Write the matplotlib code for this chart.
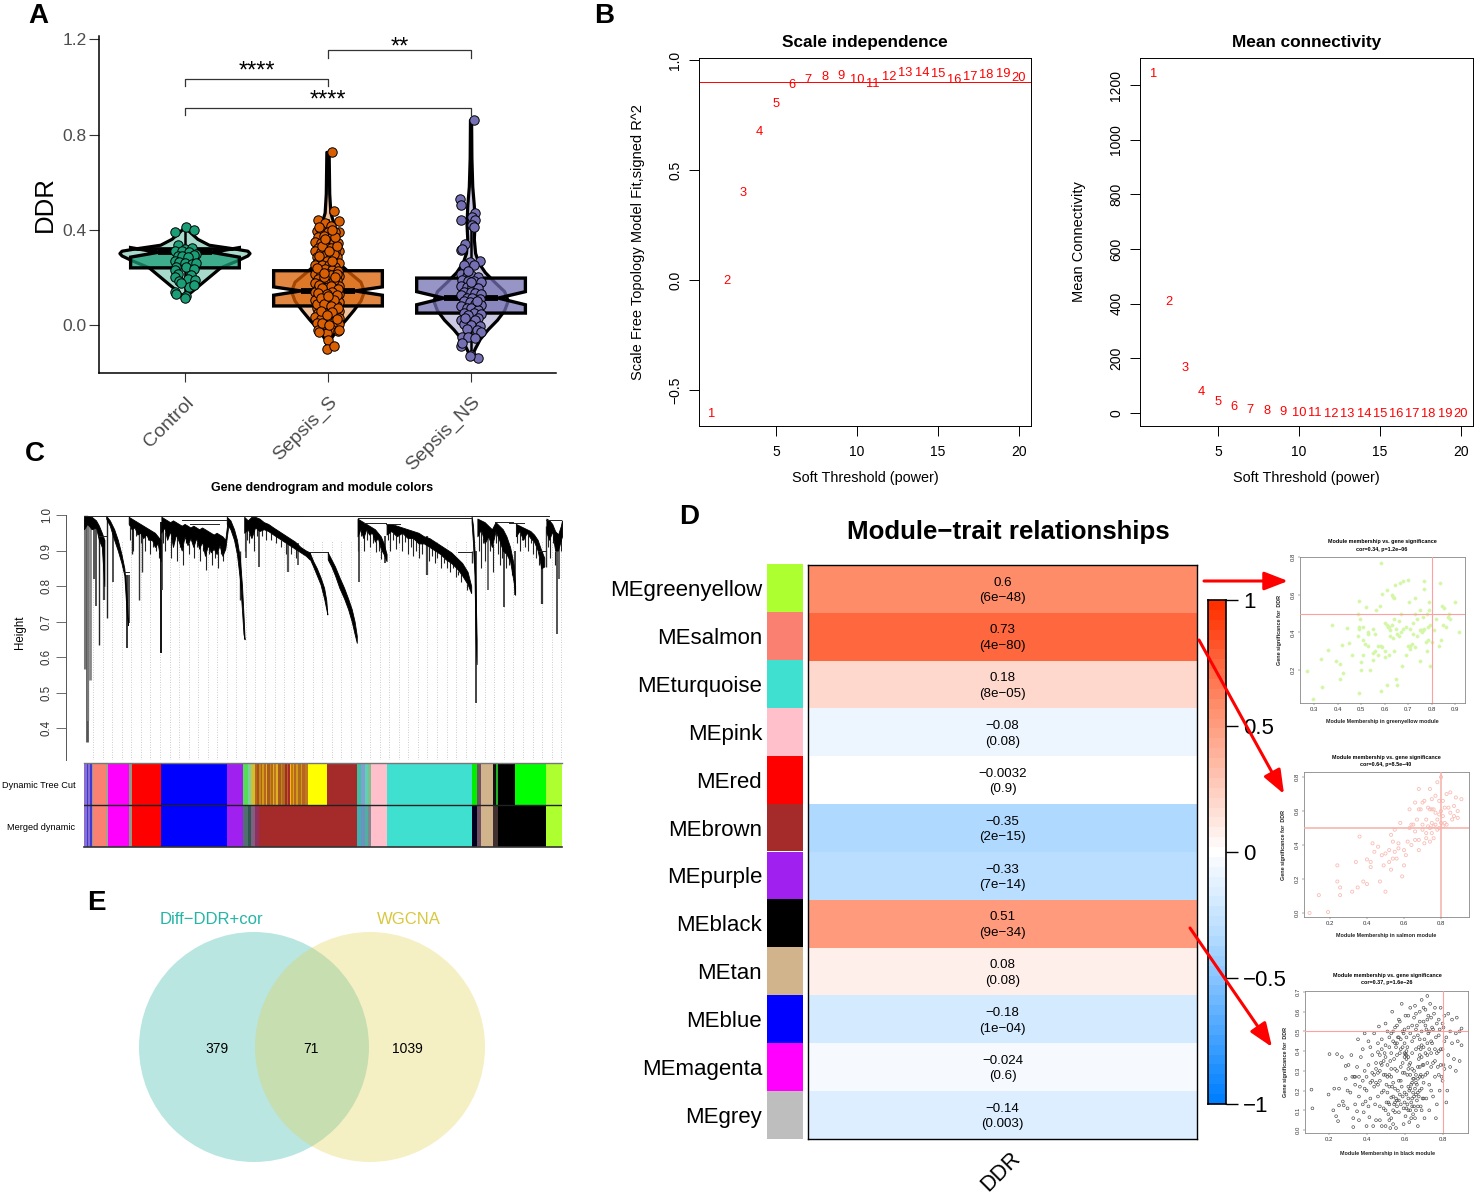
import numpy as np
import matplotlib
matplotlib.use("Agg")
import matplotlib.pyplot as plt
from matplotlib.colors import LinearSegmentedColormap
from matplotlib.patches import Circle

plt.rcParams['font.family'] = ['Liberation Sans', 'DejaVu Sans']

W, H = 1476, 1197
fig = plt.figure(figsize=(W/100, H/100), dpi=100)

def axpx(l, t, r, b):
    return fig.add_axes([l/W, 1-b/H, (r-l)/W, (b-t)/H])

# ---------- Panel A data ----------
groups = ['Control', 'Sepsis_S', 'Sepsis_NS']
box_q1 = [0.24, 0.08, 0.05]
box_med = [0.305, 0.143, 0.113]
box_q3 = [0.32, 0.228, 0.197]
box_lo = [0.285, 0.125, 0.085]
box_hi = [0.325, 0.16, 0.14]
whisk_lo = [0.12, -0.08, -0.12]
whisk_hi = [0.41, 0.44, 0.42]
fill_cols = ['#1B9E77', '#D95F02', '#7570B3']
viol_y = [
    [0.115, 0.13, 0.16, 0.20, 0.24, 0.27, 0.29, 0.30, 0.31, 0.32, 0.335, 0.36, 0.39, 0.41],
    [-0.10, -0.06, -0.02, 0.02, 0.06, 0.10, 0.14, 0.18, 0.22, 0.26, 0.30, 0.36, 0.42, 0.47, 0.55, 0.725],
    [-0.14, -0.10, -0.06, -0.02, 0.02, 0.06, 0.10, 0.14, 0.18, 0.22, 0.26, 0.30, 0.36, 0.42, 0.50, 0.58, 0.70, 0.86],
]
viol_w = [
    [0, 0.03, 0.09, 0.17, 0.25, 0.37, 0.44, 0.455, 0.44, 0.34, 0.17, 0.09, 0.035, 0],
    [0, 0.02, 0.065, 0.125, 0.18, 0.23, 0.255, 0.23, 0.15, 0.075, 0.06, 0.055, 0.045, 0.02, 0.012, 0.008],
    [0, 0.03, 0.065, 0.12, 0.185, 0.235, 0.26, 0.235, 0.165, 0.10, 0.055, 0.032, 0.023, 0.028, 0.023, 0.012, 0.006, 0.004],
]
pts_control = [(0.01,.41),(-0.07,.39),(0.06,.40),(-0.05,.335),(0.0,.32),(0.05,.325),(-0.07,.31),(-0.02,.31),(0.03,.305),
 (0.08,.30),(0.06,.295),(-0.05,.29),(-0.02,.29),(0.02,.285),(-0.07,.27),(-0.04,.265),(0.0,.26),(0.05,.255),(0.08,.26),
 (-0.06,.245),(0.01,.245),(0.06,.235),(-0.07,.23),(-0.05,.215),(0.04,.21),(-0.07,.20),(0.02,.195),(0.07,.19),(-0.04,.185),
 (0.03,.16),(-0.07,.14),(-0.06,.13),(0.01,.12),(0.0,.115),(0.06,.17),(-0.03,.175)]
pts_s = [(0.03,.725),(0.04,.48),(-0.07,.44),(0.08,.435),(-0.02,.43),(0.02,.415),(-0.08,.395),(0.08,.39),(-0.05,.40),(0.0,.39),
 (0.05,.39),(-0.07,.37),(-0.03,.375),(0.03,.37),(-0.09,.35),(-0.05,.345),(0.01,.35),(0.04,.35),(0.07,.345),(-0.07,.325),(-0.02,.33),
 (0.02,.325),(0.08,.31),(-0.09,.31),(-0.05,.305),(0.0,.305),(0.05,.31),(-0.08,.285),(-0.03,.29),(0.02,.285),(0.06,.285),(-0.07,.265),
 (-0.01,.27),(0.04,.265),(0.08,.26),(-0.09,.25),(-0.04,.25),(0.01,.25),(0.05,.245),(-0.07,.23),(-0.02,.235),(0.03,.23),(0.07,.225),
 (-0.09,.215),(-0.05,.215),(0.0,.215),(0.04,.21),(0.08,.205),(-0.07,.195),(-0.02,.195),(0.02,.19),(0.06,.19),(-0.09,.175),(-0.04,.175),
 (0.01,.175),(0.05,.17),(0.08,.165),(-0.07,.155),(-0.02,.155),(0.03,.155),(-0.09,.14),(-0.05,.14),(0.0,.14),(0.05,.135),(0.08,.13),
 (-0.07,.12),(-0.02,.12),(0.02,.115),(0.06,.11),(-0.09,.105),(-0.04,.10),(0.01,.10),(0.08,.095),(-0.06,.085),(0.03,.085),(0.06,.08),
 (-0.08,.07),(-0.03,.07),(0.01,.065),(0.08,.06),(-0.07,.05),(-0.02,.05),(0.05,.045),(-0.09,.035),(0.02,.035),(0.08,.03),(-0.05,.025),
 (0.0,.02),(0.05,.015),(-0.08,.01),(-0.03,.005),(0.08,.005),(0.03,-.005),(-0.07,-.02),(0.02,-.015),(0.07,-.025),(-0.01,-.035),(-0.06,-.03),
 (0.0,-.065),(-0.01,-.10),(0.04,-.09),(0.08,-.02),(-0.08,.09),(0.0,.16),(0.04,.30),
 (-0.04,.33),(0.01,.31),(0.06,.33),(-0.06,.29),(0.03,.27),(-0.08,.24),(0.02,.21),(0.06,.215),(-0.03,.20),(0.04,.19),(-0.06,.17),(0.02,.165),
 (0.07,.15),(-0.04,.155),(0.03,.14),(-0.07,.135),(-0.01,.13),(0.06,.125),(-0.05,.115),(0.04,.105),(-0.03,.09),(0.02,.08),(0.07,.07),(-0.05,.06),
 (0.03,.055),(-0.01,.04),(0.06,.025),(-0.04,.01),(0.01,.0),(-0.02,.36),(0.05,.37),(-0.06,.41),(0.03,.40),(-0.03,.22),(0.05,.20),(0.0,.12)]
pts_ns = [(0.02,.86),(-0.08,.53),(-0.07,.505),(0.03,.47),(0.01,.455),(0.03,.44),(-0.07,.44),(0.01,.42),(0.02,.41),(-0.04,.34),
 (-0.07,.315),(-0.06,.32),(0.06,.27),(-0.01,.265),(0.02,.25),(-0.05,.25),(-0.07,.215),(-0.03,.205),(0.0,.21),(0.05,.20),(-0.06,.19),
 (-0.02,.185),(0.02,.185),(0.07,.18),(-0.07,.165),(-0.03,.16),(0.01,.16),(0.05,.155),(-0.05,.14),(0.0,.14),(0.03,.135),(0.07,.13),
 (-0.07,.125),(-0.03,.115),(0.01,.115),(0.06,.11),(-0.05,.10),(-0.01,.095),(0.03,.09),(0.07,.085),(-0.07,.08),(-0.03,.07),(0.0,.07),
 (0.05,.065),(-0.05,.05),(0.02,.05),(0.07,.045),(-0.02,.04),(0.05,.03),(-0.07,.02),(0.03,.02),(-0.05,.005),(0.0,.0),(0.06,-.005),
 (-0.03,-.015),(0.04,-.02),(0.07,-.03),(-0.06,-.05),(-0.02,-.05),(0.03,-.055),(-0.07,-.09),(-0.06,-.075),(0.0,-.125),(0.05,-.14),
 (-0.01,-.13),(0.0,.18),(-0.02,.225),(0.04,.10),(-0.04,.03)]
pts_all = [pts_control, pts_s, pts_ns]
# bracket: left, right, top, drop end, star height, stars
brackets = [(0, 1, 1.034, 1.004, 1.020, '****'), (1, 2, 1.155, 1.122, 1.118, '**'), (0, 2, 0.912, 0.882, 0.898, '****')]

# ---------- Panel B data ----------
powers = list(range(1, 21))
sft_r2 = [-0.60, 0.005, 0.405, 0.68, 0.81, 0.895, 0.92, 0.93, 0.935, 0.92, 0.90, 0.93, 0.95, 0.95, 0.945, 0.92, 0.93, 0.94, 0.945, 0.925]
mean_k = [1247, 413, 172, 84, 48, 29, 18, 14, 11, 7, 6, 5, 4, 3, 3, 3, 2, 2, 2, 2]

# ---------- Panel C data (x = position along gene order) ----------
strip_mix = [(700,705,'#B8651E'),(705,710,'#A8501E'),(710,716,'#C08A10'),(716,720,'#B06020'),(720,724,'#D09A18'),(724,730,'#B8651E'),(730,733,'#E0B020'),(733,740,'#A85A20'),
 (740,744,'#C08A10'),(744,750,'#B8651E'),(750,753,'#DDB020'),(753,758,'#C07820'),(758,763,'#E0B020'),(763,770,'#A85A20'),(770,775,'#C08A10'),(775,782,'#B06A20'),(782,787,'#A52A2A'),
 (787,792,'#B8651E'),(792,796,'#A52A2A'),(796,800,'#FFC000'),(800,804,'#C07820'),(804,808,'#E0A010'),(808,814,'#B8651E'),(814,818,'#D09A18'),(818,826,'#B06A20'),(826,830,'#D09A18'),(830,838,'#B8651E'),(838,845,'#C07820')]
strip_top = [(229,236,'#8B6FD0'),(236,240,'#3A3AD8'),(240,246,'#8B6FD0'),(246,250,'#3A3AD8'),(250,255,'#999999'),(255,290,'#FA8072'),(290,294,'#A8A090'),
 (294,352,'#FF00FF'),(352,362,'#8C9A80'),(362,440,'#FF0000'),(440,622,'#0000FF'),(622,668,'#A020F0'),(668,680,'#55DD55'),(680,688,'#7FD0A0'),(688,700,'#D0C030')] + strip_mix + [
 (845,899,'#FFFF00'),(899,980,'#A52A2A'),(980,992,'#40C0A0'),(992,1002,'#7FA0D0'),(1002,1012,'#60D0B0'),(1012,1020,'#80C090'),(1020,1062,'#FFC0CB'),(1062,1296,'#40E0D0'),
 (1296,1310,'#00EE00'),(1310,1323,'#705060'),(1323,1356,'#D2B48C'),(1356,1362,'#111111'),(1362,1369,'#20B020'),(1369,1415,'#000000'),(1415,1500,'#00FF00'),(1500,1545,'#ADFF2F')]
strip_bot = [(229,236,'#8B6FD0'),(236,240,'#3A3AD8'),(240,246,'#8B6FD0'),(246,250,'#3A3AD8'),(250,255,'#999999'),(255,290,'#FA8072'),(290,294,'#A8A090'),
 (294,352,'#FF00FF'),(352,362,'#8C9A80'),(362,440,'#FF0000'),(440,622,'#0000FF'),(622,668,'#A020F0'),(668,680,'#507070'),(680,690,'#305850'),(690,700,'#806080'),
 (700,712,'#903060'),(712,980,'#A52A2A'),(980,992,'#40B0B0'),(992,1002,'#7090C0'),(1002,1012,'#50B0A0'),(1012,1020,'#808890'),(1020,1062,'#FFC0CB'),(1062,1296,'#40E0D0'),
 (1296,1310,'#000020'),(1310,1323,'#705060'),(1323,1356,'#D2B48C'),(1356,1369,'#403030'),(1369,1500,'#000000'),(1500,1545,'#ADFF2F')]
# bushes: x, upper envelope, jagged lower envelope
bushes = [
 ([229,238,250,262,270,278,285],[.998,.998,.995,.985,.97,.95,.93],[.96,.975,.96,.965,.93,.91,.80]),
 ([290,300,312,322,332,340,346,350],[.998,.985,.96,.93,.89,.85,.78,.70],[.99,.97,.93,.90,.865,.83,.73,.69]),
 ([352,360,368,376,384,392,400,408,416,424,432,440],[.995,.99,.985,.98,.975,.97,.965,.96,.955,.95,.94,.93],[.975,.96,.965,.945,.95,.935,.945,.93,.93,.91,.92,.87]),
 ([442,450,458,466,474,482,490,498,506,514,522,530,538,546,554,562,570,578,586,594,602,610,618,625],
  [.995,.99,.985,.98,.985,.98,.975,.97,.975,.97,.965,.97,.965,.96,.965,.96,.955,.95,.945,.95,.945,.94,.93,.99],
  [.95,.965,.93,.955,.91,.945,.925,.90,.94,.915,.935,.91,.935,.905,.925,.885,.915,.895,.905,.89,.915,.885,.905,.96]),
 ([622,632,642,650,658,664,668,671],[.995,.985,.96,.93,.88,.80,.72,.655],[.975,.96,.93,.89,.82,.73,.665,.65]),
 ([670,680,690,700,712,724,736,750,765,780,795,810,825,840,850],[.995,.985,.995,.995,.99,.98,.975,.965,.955,.945,.935,.925,.91,.90,.895],
  [.95,.96,.935,.965,.955,.96,.955,.945,.935,.925,.915,.905,.895,.885,.875]),
 ([850,860,870,880,890,896,899],[.895,.87,.85,.825,.795,.76,.72],[.878,.855,.83,.805,.765,.735,.72]),
 ([900,910,920,932,945,956,966,974,980],[.895,.875,.855,.825,.795,.765,.735,.70,.66],[.875,.855,.83,.795,.765,.735,.70,.665,.64]),
 ([982,990,998,1006,1014,1022,1030,1038,1046,1054,1062],[.99,.985,.98,.975,.97,.965,.96,.95,.94,.92,.89],[.94,.96,.935,.96,.945,.95,.925,.935,.905,.89,.87]),
 ([1062,1075,1090,1105,1120,1135,1150,1165,1180,1195,1210,1225,1240,1255,1270,1285,1295],[.975,.975,.97,.965,.96,.955,.95,.94,.935,.925,.915,.905,.895,.88,.865,.84,.80],
  [.945,.955,.94,.95,.935,.935,.92,.92,.91,.90,.89,.875,.865,.85,.83,.805,.78]),
 ([1296,1300,1304,1307,1310],[.998,.97,.90,.80,.65],[.98,.92,.83,.65,.58]),
 ([1312,1322,1332,1342,1352,1362,1372,1382,1392,1402,1412,1416],[.99,.985,.98,.97,.96,.98,.97,.96,.94,.91,.86,.80],[.94,.96,.92,.94,.91,.955,.93,.90,.89,.87,.81,.775]),
 ([1418,1428,1438,1448,1458,1468,1478,1488,1496],[.975,.97,.965,.96,.955,.945,.93,.90,.88],[.94,.955,.93,.95,.935,.925,.90,.85,.855]),
 ([1502,1510,1518,1526,1534,1542,1545],[.99,.985,.975,.955,.945,.97,.985],[.95,.93,.955,.90,.90,.93,.94]),
]
drops = [(232,.99,.565,2.2,'#777777'),(236,.99,.36,2.0,'#555555'),(241,.99,.42,1.6,'#777777'),(246,.99,.535,2.0,'#888888'),(257,.97,.82,1.4,'#555555'),(263,.97,.745,1.2,'#333333'),
 (271,.96,.635,1.0,'#222222'),(285,.93,.76,1.6,'#444444'),(293,.99,.71,1.0,'#222222'),(310,.95,.81,1.2,'#333333'),(348,.83,.625,1.2,'#111111'),(352,.83,.695,1.2,'#333333'),
 (360,.98,.89,1.0,'#222222'),(380,.97,.76,1.0,'#333333'),(390,.95,.84,1.0,'#333333'),(441,.98,.61,1.4,'#111111'),(445,.95,.79,1.2,'#333333'),(658,.90,.76,1.0,'#333333'),
 (675,.97,.88,1.2,'#444444'),(712,.98,.855,1.2,'#333333'),(790,.93,.84,1.6,'#555555'),(818,.92,.86,1.2,'#444444'),(986,.98,.81,1.2,'#333333'),(1058,.94,.865,1.2,'#222222'),
 (1172,.94,.83,1.6,'#444444'),(1296,.90,.865,1.0,'#333333'),(1309,.90,.47,1.4,'#444444'),(1340,.97,.79,1.2,'#555555'),(1386,.95,.74,1.4,'#444444'),(1415,.90,.775,1.2,'#222222'),
 (1490,.90,.75,1.6,'#333333'),(1532,.95,.665,1.2,'#333333'),(1537,.92,.82,1.2,'#444444'),(1500,.97,.855,1.0,'#333333')]
# fine spikes hanging from the bushes: x, lowest height
spikes = [(356,.93),(364,.90),(372,.94),(386,.92),(396,.90),(404,.93),(412,.89),(420,.91),(428,.90),(436,.88),
 (447,.92),(453,.90),(461,.94),(469,.88),(477,.93),(485,.87),(493,.91),(501,.86),(509,.92),(517,.89),(525,.93),(533,.88),(541,.91),(549,.87),(557,.90),(565,.845),(573,.89),(581,.86),
 (589,.88),(597,.85),(605,.89),(613,.87),(672,.90),(678,.93),(684,.92),(692,.94),(698,.90),(704,.94),(718,.94),(730,.93),(744,.93),(758,.92),(772,.91),(785,.89),(800,.89),(812,.88),
 (984,.90),(992,.94),(1000,.90),(1008,.93),(1016,.91),(1024,.92),(1032,.895),(1040,.90),(1048,.875),(1066,.93),(1072,.90),(1080,.93),(1088,.905),(1096,.92),(1104,.90),(1112,.925),(1120,.89),(1128,.91),
 (1136,.885),(1144,.90),(1152,.88),(1160,.89),(1178,.87),(1186,.885),(1194,.865),(1202,.88),(1212,.85),(1220,.865),(1228,.85),(1236,.84),(1244,.85),(1252,.825),(1260,.83),(1268,.81),(1276,.82),(1284,.79),
 (1316,.90),(1322,.85),(1328,.92),(1334,.87),(1346,.90),(1354,.84),(1362,.92),(1368,.89),(1374,.86),(1380,.88),(1392,.85),(1398,.86),(1406,.83),
 (1422,.92),(1430,.90),(1436,.93),(1444,.91),(1452,.90),(1460,.92),(1466,.89),(1474,.88),(1482,.86),(1506,.91),(1512,.88),(1520,.92),(1526,.86),(1543,.90)]
merges = [(229,830,.998),(440,780,.997),(700,1500,.996),(982,1296,.992),(1296,1510,.997),(1500,1542,.986),(1440,1400,.978),(500,620,.985),(520,600,.975),(440,625,.996),
 (340,352,.84),(270,290,.94),(850,900,.895),(1260,1296,.897),(1000,1060,.978),(1360,1410,.98),(1060,1100,.975),(1480,1500,.90)]

# ---------- Panel D data ----------
modules = ['MEgreenyellow','MEsalmon','MEturquoise','MEpink','MEred','MEbrown','MEpurple','MEblack','MEtan','MEblue','MEmagenta','MEgrey']
module_cols = ['#ADFF2F','#FA8072','#40E0D0','#FFC0CB','#FF0000','#A52A2A','#A020F0','#000000','#D2B48C','#0000FF','#FF00FF','#BEBEBE']
cors = [0.6, 0.73, 0.18, -0.08, -0.0032, -0.35, -0.33, 0.51, 0.08, -0.18, -0.024, -0.14]
cor_txt = ['0.6','0.73','0.18','−0.08','−0.0032','−0.35','−0.33','0.51','0.08','−0.18','−0.024','−0.14']
pvals = ['(6e−48)','(4e−80)','(8e−05)','(0.08)','(0.9)','(2e−15)','(7e−14)','(9e−34)','(0.08)','(1e−04)','(0.6)','(0.003)']
bar_ticks = [1, 0.5, 0, -0.5, -1]
bar_labels = ['1', '0.5', '0', '−0.5', '−1']

pts_gy = [(.27,.195),(.295,.045),(.33,.26),(.335,.11),(.36,.305),(.375,.44),(.395,.25),(.41,.23),(.41,.15),(.42,.335),(.425,.185),(.44,.425),(.45,.345),
 (.46,.28),(.485,.38),(.485,.5),(.49,.565),(.49,.08),(.49,.43),(.495,.47),(.5,.24),(.5,.2),(.51,.43),(.51,.28),(.515,.34),(.52,.535),(.53,.39),(.53,.33),
 (.54,.2),(.55,.42),(.55,.255),(.56,.3),(.56,.39),(.565,.52),(.57,.28),(.58,.54),(.585,.77),(.585,.33),(.585,.09),(.59,.605),(.59,.32),(.6,.45),(.6,.27),
 (.61,.625),(.61,.12),(.615,.43),(.62,.28),(.625,.41),(.63,.6),(.63,.44),(.635,.37),(.64,.58),(.64,.3),(.645,.65),(.65,.42),(.65,.15),(.655,.12),(.66,.38),
 (.665,.66),(.67,.5),(.67,.4),(.675,.22),(.68,.67),(.69,.43),(.69,.28),(.7,.68),(.705,.56),(.71,.42),(.71,.33),(.715,.34),(.73,.58),(.73,.5),(.73,.32),
 (.74,.47),(.75,.52),(.75,.41),(.75,.25),(.76,.4),(.765,.48),(.77,.42),(.77,.67),(.77,.63),(.78,.3),(.785,.36),(.79,.56),(.79,.52),(.795,.44),(.795,.22),
 (.8,.35),(.81,.41),(.82,.47),(.83,.33),(.835,.66),(.84,.36),(.845,.54),(.85,.44),(.855,.53),(.86,.43),(.87,.48),(.875,.5),(.88,.47),(.9,.56),(.915,.4),(.72,.45),(.66,.46),(.62,.43),(.78,.5),
 (.61,.44),(.625,.38),(.635,.59),(.64,.47),(.655,.39),(.68,.42),(.7,.33),(.71,.31),(.72,.39),(.74,.38),(.755,.41),(.765,.41),(.775,.35),(.785,.43),(.6,.3),(.57,.33),(.55,.29),(.53,.4),(.51,.36),(.49,.42)]
pts_sal = [(.09,.0),(.14,.105),(.19,.005),(.24,.28),(.24,.185),(.255,.15),(.255,.105),(.32,.125),(.34,.3),(.35,.15),(.36,.45),(.38,.185),(.4,.315),(.4,.17),(.42,.27),
 (.42,.3),(.43,.41),(.44,.36),(.46,.39),(.47,.185),(.48,.34),(.49,.28),(.5,.125),(.5,.35),(.52,.3),(.52,.37),(.53,.255),(.53,.46),(.54,.42),(.54,.32),(.55,.36),(.55,.49),
 (.56,.32),(.57,.41),(.57,.38),(.58,.53),(.59,.215),(.6,.37),(.6,.28),(.61,.34),(.62,.42),(.63,.61),(.63,.5),(.64,.4),(.65,.52),(.66,.48),(.66,.43),(.67,.55),(.68,.37),(.68,.73),
 (.68,.43),(.69,.61),(.7,.65),(.7,.49),(.71,.41),(.71,.66),(.72,.55),(.72,.47),(.73,.51),(.74,.73),(.74,.61),(.74,.42),(.75,.53),(.75,.47),(.75,.67),(.76,.61),(.76,.44),
 (.77,.52),(.77,.69),(.78,.49),(.78,.55),(.79,.66),(.79,.5),(.8,.8),(.8,.6),(.8,.53),(.81,.57),(.81,.66),(.82,.62),(.83,.7),(.83,.52),(.84,.62),(.85,.71),(.85,.59),(.86,.55),
 (.87,.63),(.88,.68),(.89,.6),(.89,.56),(.91,.67),(.87,.57),(.78,.77),(.66,.65),(.64,.52),(.73,.62),(.75,.61),(.77,.59),(.79,.58),(.81,.51),(.82,.53),(.72,.44),(.74,.5),(.76,.51),(.7,.52),(.68,.61)]
pts_blk = [(.11,.205),(.115,.11),(.205,.385),(.2,.18),(.225,.1),(.23,.21),(.24,.07),(.245,.385),(.25,.045),(.255,.21),(.255,.125),(.27,.37),(.275,.145),(.28,.125),(.29,.26),(.29,.325),
 (.3,.2),(.3,.11),(.305,.33),(.315,.19),(.32,.38),(.325,.27),(.33,.015),(.33,.06),(.335,.27),(.34,.13),(.34,.23),(.35,.095),(.35,.32),(.355,.46),(.36,.17),(.36,.05),(.365,.22),(.37,.37),
 (.38,.41),(.38,.25),(.385,.09),(.39,.49),(.39,.3),(.395,.145),(.4,.02),(.4,.2),(.41,.33),(.41,.45),(.415,.065),(.42,.16),(.42,.42),(.43,.25),(.43,.38),(.435,.02),(.44,.22),(.44,.49),
 (.445,.13),(.45,.05),(.45,.31),(.46,.17),(.46,.395),(.465,.525),(.47,.25),(.47,.05),(.475,.34),(.48,.02),(.48,.46),(.49,.2),(.49,.11),(.495,.39),(.5,.28),(.5,.54),(.5,.02),(.505,.14),
 (.51,.5),(.51,.33),(.515,.08),(.52,.42),(.52,.22),(.525,.01),(.53,.27),(.53,.165),(.535,.6),(.54,.45),(.54,.1),(.545,.36),(.55,.52),(.55,.21),(.555,.01),(.56,.3),(.56,.15),(.565,.47),
 (.57,.09),(.57,.56),(.575,.39),(.58,.25),(.58,.13),(.585,.64),(.59,.5),(.59,.34),(.595,.03),(.6,.19),(.6,.44),(.605,.58),(.61,.38),(.61,.11),(.615,.28),(.62,.52),(.62,.22),(.625,.04),
 (.63,.62),(.63,.34),(.635,.14),(.64,.45),(.64,.24),(.645,.08),(.65,.57),(.65,.3),(.655,.63),(.66,.41),(.66,.18),(.665,.53),(.67,.02),(.67,.26),(.675,.36),(.68,.6),(.68,.46),(.685,.12),
 (.69,.66),(.69,.21),(.695,.33),(.7,.55),(.7,.42),(.705,.06),(.71,.28),(.71,.61),(.715,.16),(.72,.38),(.72,.68),(.725,.49),(.73,.23),(.73,.1),(.74,.57),(.74,.32),(.745,.44),(.75,.17),
 (.75,.51),(.76,.27),(.76,.62),(.765,.06),(.77,.39),(.77,.13),(.78,.48),(.78,.56),(.785,.2),(.79,.33),(.79,.62),(.8,.41),(.8,.25),(.805,.52),(.81,.58),(.81,.31),(.82,.14),(.82,.47),
 (.825,.2),(.83,.59),(.83,.38),(.84,.5),(.84,.32),(.85,.44),(.85,.56),(.86,.36),(.87,.49),(.87,.3),(.875,.57),(.88,.45),(.89,.35),(.89,.5),(.9,.43),(.9,.515),(.57,.15),(.59,.29),(.61,.4),
 (.63,.21),(.65,.12),(.67,.32),(.69,.43),(.55,.31),(.53,.39),(.51,.19),(.49,.28),(.47,.12),(.45,.24),(.43,.29),(.41,.12),(.39,.21),(.66,.51),(.64,.39),(.62,.1),(.6,.29),(.58,.46),(.56,.38),
 (.54,.24),(.52,.13),(.5,.43),(.48,.33),(.46,.29),(.62,.31),(.6,.37),(.68,.27),(.7,.16),(.72,.29),(.74,.2),(.76,.35),(.78,.28),(.64,.16),(.66,.28),(.68,.38),(.7,.24),(.72,.44),(.74,.39),
 (.6,.39),(.605,.385),(.61,.36),(.615,.42),(.62,.37),(.625,.33),(.63,.28),(.635,.23),(.64,.31),(.645,.19),(.65,.26),(.655,.21),(.66,.24),(.665,.15),(.67,.19),(.675,.42),(.68,.32),(.685,.41),
 (.69,.37),(.695,.27),(.7,.33),(.705,.46),(.71,.39),(.715,.51),(.72,.34),(.725,.58),(.73,.41),(.735,.64),(.74,.45),(.745,.52),(.75,.34),(.755,.59),(.76,.41),(.765,.47),(.77,.54),(.775,.32),
 (.78,.4),(.785,.51),(.79,.41),(.795,.27),(.8,.54),(.805,.33),(.81,.45),(.62,.58),(.63,.49),(.64,.53),(.65,.47),(.66,.59),(.67,.48),(.68,.55),(.69,.5),(.7,.62),(.71,.53),(.72,.56),(.73,.5),
 (.52,.28),(.525,.35),(.53,.31),(.535,.22),(.54,.17),(.545,.13),(.55,.09),(.555,.16),(.56,.12),(.565,.2),(.57,.25),(.575,.18),(.58,.32),(.585,.22),(.59,.17),(.595,.11),(.6,.14),(.605,.07),
 (.61,.18),(.615,.13),(.62,.16),(.625,.2),(.63,.1),(.635,.06),(.64,.12),(.645,.26),(.65,.17),(.655,.06),(.66,.1),(.665,.23),(.67,.12),(.675,.17),(.68,.2),(.685,.28),(.69,.1),(.695,.16),
 (.46,.23),(.47,.3),(.48,.19),(.49,.35),(.5,.1),(.505,.23),(.51,.27),(.515,.14),(.52,.05),(.53,.06),(.54,.03),(.55,.14),(.44,.28),(.45,.34),(.42,.24),(.4,.27),(.38,.13),(.36,.27),(.34,.27),
 (.53,.49),(.54,.5),(.55,.44),(.56,.53),(.57,.47),(.58,.41),(.59,.42),(.6,.51),(.61,.47),(.575,.55),(.595,.49),(.555,.42),(.56,.44),(.52,.47),(.5,.37),(.48,.41),(.46,.44),(.47,.38)]

venn_labels = ['Diff−DDR+cor', 'WGCNA']
venn_counts = ['379', '71', '1039']

# ========== Panel A ==========
ax = axpx(99, 36, 556, 373)
ax.set_xlim(-0.601, 2.594); ax.set_ylim(-0.2017, 1.214)
for i in range(3):
    y = np.array(viol_y[i]); w = np.array(viol_w[i])
    ax.fill_betweenx(y, i-w, i+w, color=fill_cols[i], alpha=0.38, lw=0, zorder=2)
    ax.plot(np.r_[i-w, (i+w)[::-1], i-w[0]], np.r_[y, y[::-1], y[0]], color='k', lw=2.3, zorder=2.5, solid_joinstyle='round')
stats = [dict(med=box_med[i], q1=box_q1[i], q3=box_q3[i], cilo=box_lo[i], cihi=box_hi[i], whislo=whisk_lo[i], whishi=whisk_hi[i], fliers=[]) for i in range(3)]
bp = ax.bxp(stats, positions=[0, 1, 2], widths=0.76, shownotches=True, patch_artist=True, showcaps=False, showfliers=False,
            boxprops=dict(lw=2.4, edgecolor='k'), medianprops=dict(lw=4.2, color='k'), whiskerprops=dict(lw=1.8, color='k'), manage_ticks=False, zorder=3)
for b, c in zip(bp['boxes'], fill_cols):
    b.set_facecolor(matplotlib.colors.to_rgba(c, 0.75))
for i, pts in enumerate(pts_all):
    p = np.array(pts)
    ax.scatter(i+p[:, 0], p[:, 1], s=46, c=fill_cols[i], edgecolors='k', linewidths=0.7, zorder=5, clip_on=False)
for a, b, top, low, star, s in brackets:
    ax.plot([a, a, b, b], [low, top, top, low], color='#333333', lw=0.9, zorder=1)
    ax.text((a+b)/2, star, s, ha='center', va='bottom', fontsize=17, linespacing=0.5)
for sp in ('top', 'right'):
    ax.spines[sp].set_visible(False)
for sp in ('left', 'bottom'):
    ax.spines[sp].set_linewidth(1.1)
ax.set_yticks([0, 0.4, 0.8, 1.2]); ax.set_yticklabels(['0.0', '0.4', '0.8', '1.2'], fontsize=12.5, color='#4D4D4D')
ax.set_xticks([0, 1, 2]); ax.set_xticklabels(groups, fontsize=14, color='#4D4D4D', rotation=45, ha='right', rotation_mode='anchor')
ax.tick_params(axis='y', length=7, width=0.8, color='#333333', pad=2)
ax.tick_params(axis='x', length=6.5, width=0.8, color='#333333', pad=8.5)
ax.set_ylabel('DDR', fontsize=18.5, labelpad=4)

# ========== Panel B ==========
def rplot(box, xlim, ylim, yvals, title, ylabel, yticks, ylabs, ylabel_x, hline=None):
    a = axpx(*box)
    a.set_xlim(*xlim); a.set_ylim(*ylim)
    for p, v in zip(powers, yvals):
        a.annotate(str(p), (p, v), xytext=(0, -1.4), textcoords='offset points', color='red', fontsize=9.3, ha='center', va='center')
    if hline is not None:
        a.axhline(hline, color='red', lw=0.7)
    a.set_xticks([5, 10, 15, 20])
    a.set_yticks(yticks); a.set_yticklabels(ylabs, rotation=90, va='center', fontsize=10)
    a.tick_params(axis='both', length=7, width=0.7, labelsize=10, pad=5)
    a.tick_params(axis='x', pad=7)
    for s in a.spines.values():
        s.set_linewidth(0.7)
    a.set_title(title, fontsize=12.4, fontweight='bold', pad=8)
    a.set_xlabel('Soft Threshold (power)', fontsize=10.4, labelpad=8)
    fig.text(ylabel_x/W, 1-(box[1]+box[3])/2/H, ylabel, rotation=90, fontsize=10.5, ha='center', va='center')
rplot((699, 58, 1031, 426), (0.247, 20.74), (-0.664, 1.009), sft_r2, 'Scale independence', 'Scale Free Topology Model Fit,signed R^2',
      [-0.5, 0, 0.5, 1.0], ['−0.5', '0.0', '0.5', '1.0'], 638, hline=0.90)
rplot((1140, 58, 1473, 426), (0.185, 20.74), (-47.6, 1299), mean_k, 'Mean connectivity', 'Mean Connectivity',
      [0, 200, 400, 600, 800, 1000, 1200], ['0', '200', '400', '600', '800', '1000', '1200'], 1079)

# ========== Panel C ==========
ax = axpx(65.5, 514.5, 562, 760)
ax.set_xlim(178, 1545); ax.set_ylim(0.31, 1.0015)
ax.vlines(np.arange(254, 1545, 26.3), 0.31, 0.93, color='#BBBBBB', lw=0.6, linestyles=(0, (1, 2)), zorder=1)
for xs, up, lo in bushes:
    ax.fill_between(xs, lo, up, color='k', lw=0.6, zorder=3, edgecolor='k')
    for x, b in spikes:
        if xs[0] <= x <= xs[-1]:
            ax.plot([x, x], [np.interp(x, xs, lo), b], color='#222222', lw=0.8, zorder=2, solid_capstyle='butt')
for x, t, b, lw, c in drops:
    ax.plot([x, x], [t, b], color=c, lw=lw, zorder=2, solid_capstyle='butt')
for a, b, y in merges:
    ax.plot([a, b], [y, y], color='#222222', lw=0.7, zorder=3)
for sp in ('top', 'right', 'bottom'):
    ax.spines[sp].set_visible(False)
ax.spines['left'].set_color('#555555'); ax.spines['left'].set_linewidth(0.7)
ax.set_xticks([])
ax.set_yticks([0.4, 0.5, 0.6, 0.7, 0.8, 0.9, 1.0])
ax.set_yticklabels(['0.4', '0.5', '0.6', '0.7', '0.8', '0.9', '1.0'], rotation=90, va='center', fontsize=8.3, color='#333333')
ax.tick_params(axis='y', length=7, width=0.6, color='#555555', pad=2)
ax.patch.set_alpha(0)

st = axpx(84, 763, 562, 847)
st.set_xlim(229, 1545); st.set_ylim(0, 2)
for row, segs in ((1, strip_top), (0, strip_bot)):
    for a, b, c in segs:
        st.broken_barh([(a, b-a)], (row, 1), facecolors=c, lw=0)
st.axhline(1, color='#222222', lw=1)
st.axis('off')
st.plot([229, 1545], [0, 0], color='#333333', lw=1.2, clip_on=False)
st.plot([229, 1545], [2, 2], color='#777777', lw=1.0, clip_on=False)

# ========== Panel D ==========
cmap = LinearSegmentedColormap.from_list('bwr2', [(0, '#0080FF'), (0.325, '#B3DBFF'), (0.5, '#FFFFFF'), (0.8, '#FF8C69'), (1, '#FF3000')], N=51)
ax = axpx(808, 565, 1197, 1139)
ax.imshow(np.array(cors).reshape(-1, 1), cmap=cmap, vmin=-1, vmax=1, aspect='auto', extent=(0, 1, len(cors), 0), interpolation='nearest')
for i, (c, p) in enumerate(zip(cor_txt, pvals)):
    ax.text(0.5, i+0.53, c+'\n'+p, ha='center', va='center', fontsize=9.6, linespacing=1.4)
ax.set_xticks([]); ax.set_yticks([])
for s in ax.spines.values():
    s.set_linewidth(1.0)

sa = axpx(767, 564, 803, 1139)
sa.set_xlim(0, 1); sa.set_ylim(len(modules), 0)
for i, c in enumerate(module_cols):
    sa.barh(i+0.5, 1, height=1, color=c, lw=0)
sa.set_xticks([])
sa.set_yticks(np.arange(len(modules))+0.5); sa.set_yticklabels(modules, fontsize=16)
sa.tick_params(axis='y', length=0, pad=3.5)
for s in sa.spines.values():
    s.set_visible(False)

cb = axpx(1208, 600, 1226, 1104)
cb.imshow(np.linspace(1, -1, 51).reshape(-1, 1), cmap=cmap, vmin=-1, vmax=1, aspect='auto', extent=(0, 1, -1, 1), interpolation='nearest')
cb.set_xticks([]); cb.yaxis.tick_right()
cb.set_yticks(bar_ticks); cb.set_yticklabels(bar_labels, fontsize=16)
cb.tick_params(axis='y', length=8.6, width=1.0, pad=3.6)
for s in cb.spines.values():
    s.set_linewidth(1.2)

def small(box, xlim, ylim, pts, xt, yt, xl, yl, cor, ec, fc, s, lw, titley, xlaby, ylabx, cx, guide='#FFA0A0', guide_lw=0.8):
    a = axpx(*box)
    a.set_xlim(*xlim); a.set_ylim(*ylim)
    p = np.array(pts)
    a.scatter(p[:, 0], p[:, 1], s=s, facecolors=fc, edgecolors=ec, linewidths=lw, zorder=2, clip_on=False)
    a.axvline(0.8, color=guide, lw=guide_lw, zorder=3); a.axhline(0.5, color=guide, lw=guide_lw, zorder=3)
    a.set_xticks(xt); a.set_xticklabels([f'{v:.1f}' for v in xt], fontsize=4.3)
    a.set_yticks(yt); a.set_yticklabels([f'{v:.1f}' for v in yt], fontsize=4.3, rotation=90, va='center')
    a.tick_params(length=1.5, width=0.3, pad=1.5, colors='#333333')
    for sp in a.spines.values():
        sp.set_linewidth(0.6); sp.set_color('#888888')
    fig.text(cx/W, 1-titley/H, 'Module membership vs. gene significance', fontsize=3.9, fontweight='bold', ha='center', va='center')
    fig.text(cx/W, 1-(titley+7.5)/H, cor, fontsize=3.9, fontweight='bold', ha='center', va='center')
    fig.text(cx/W, 1-xlaby/H, xl, fontsize=3.9, fontweight='bold', color='#222222', ha='center', va='center')
    fig.text(ylabx/W, 1-(box[1]+box[3])/2/H, yl, fontsize=3.9, fontweight='bold', color='#222222', rotation=90, ha='center', va='center')
small((1300, 557, 1465, 703), (.24, .9425), (.025, .8), pts_gy, [.3, .4, .5, .6, .7, .8, .9], [.2, .4, .6, .8],
      'Module Membership in greenyellow module', 'Gene significance for  DDR', 'cor=0.34, p=1.2e−06', '#D3F7A5', '#D3F7A5', 5.5, 0.3, 542, 722, 1279, 1382)
small((1304, 772, 1469, 917), (.06, .951), (-.024, .83), pts_sal, [.2, .4, .6, .8], [0, .2, .4, .6, .8],
      'Module Membership in salmon module', 'Gene significance for  DDR', 'cor=0.64, p=8.5e−40', '#F9BDB6', 'none', 5, 0.6, 757, 936, 1283, 1386, guide='#F7B0A8', guide_lw=1.1)
small((1305, 991, 1468, 1133), (.076, .934), (-.015, .705), pts_blk, [.2, .4, .6, .8], [0, .1, .2, .3, .4, .5, .6, .7],
      'Module Membership in black module', 'Gene significance for  DDR', 'cor=0.37, p=1.6e−26', '#444444', 'none', 4, 0.45, 975, 1153, 1285, 1387)

# ========== Overlay: letters, headings, arrows, Venn ==========
ov = fig.add_axes([0, 0, 1, 1], zorder=10)
ov.set_xlim(0, W); ov.set_ylim(H, 0); ov.axis('off'); ov.patch.set_alpha(0)
for t, x, y in (('A', 38, 16), ('B', 604, 16), ('C', 35, 454), ('D', 689, 517), ('E', 96, 903)):
    ov.text(x, y, t, fontsize=20, fontweight='bold', ha='center', va='center')
ov.text(322, 488, 'Gene dendrogram and module colors', fontsize=9, fontweight='bold', ha='center', va='center')
ov.text(20, 632, 'Height', fontsize=8.3, rotation=90, ha='center', va='center')
ov.text(38.5, 785, 'Dynamic Tree Cut', fontsize=6.6, ha='center', va='center')
ov.text(41, 827, 'Merged dynamic', fontsize=6.6, ha='center', va='center')
ov.text(1008, 532, 'Module−trait relationships', fontsize=18.6, fontweight='bold', ha='center', va='center')
ov.text(1001, 1172, 'DDR', fontsize=15.5, rotation=45, ha='center', va='center')
for (x0, y0), (x1, y1) in (((1204, 581), (1288, 581)), ((1199, 640), (1284, 794)), ((1190, 928), (1272, 1047))):
    ov.annotate('', xy=(x1, y1), xytext=(x0, y0),
                arrowprops=dict(arrowstyle='-|>,head_length=0.9,head_width=0.35', color='#FF0000', lw=2.2, shrinkA=0, shrinkB=0, mutation_scale=16))
ov.add_patch(Circle((254, 1047), 115, facecolor='#2CB5A6', alpha=0.33, lw=0))
ov.add_patch(Circle((370, 1047), 115, facecolor='#E3D04E', alpha=0.33, lw=0))
ov.text(211, 920, venn_labels[0], color='#25B5A5', fontsize=12, ha='center', va='center')
ov.text(409, 920, venn_labels[1], color='#D8C83F', fontsize=12, ha='center', va='center')
for t, x in zip(venn_counts, (217, 311, 407)):
    ov.text(x, 1049, t, fontsize=10, ha='center', va='center')

fig.savefig('out.png', dpi=100)
